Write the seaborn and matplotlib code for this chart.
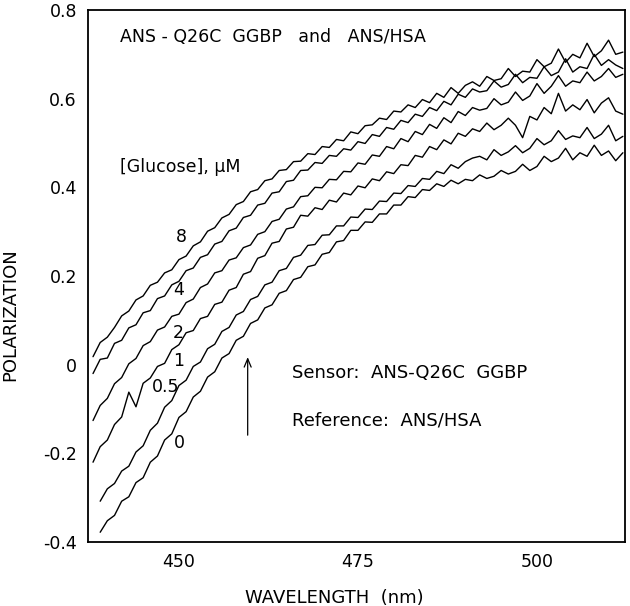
import matplotlib
matplotlib.use("Agg")
import matplotlib.pyplot as plt
import numpy as np
import pandas as pd
import seaborn as sns

# ---- data ----
wl_a = list(range(438, 513))   # curves 8, 4, 2, 1
wl_b = list(range(439, 513))   # curves 0.5, 0

p8 = [0.018, 0.050, 0.062, 0.084, 0.110, 0.121, 0.146, 0.155, 0.179, 0.186,
      0.207, 0.214, 0.237, 0.245, 0.268, 0.277, 0.301, 0.309, 0.331, 0.339,
      0.361, 0.368, 0.390, 0.395, 0.415, 0.419, 0.438, 0.440, 0.458, 0.459,
      0.476, 0.474, 0.492, 0.490, 0.508, 0.505, 0.525, 0.521, 0.539, 0.541,
      0.556, 0.553, 0.572, 0.570, 0.586, 0.580, 0.598, 0.591, 0.612, 0.603,
      0.625, 0.612,
      0.630, 0.638, 0.628, 0.650, 0.641, 0.645, 0.668, 0.650, 0.662, 0.660,
      0.688, 0.672, 0.680, 0.712, 0.682, 0.700, 0.692, 0.725, 0.695, 0.708,
      0.732, 0.700, 0.705]
p4 = [-0.020, 0.012, 0.015, 0.048, 0.055, 0.083, 0.090, 0.117, 0.122, 0.149,
      0.155, 0.180, 0.188, 0.212, 0.218, 0.242, 0.248, 0.272, 0.278, 0.302,
      0.308, 0.332, 0.337, 0.360, 0.364, 0.387, 0.390, 0.413, 0.416, 0.438,
      0.439, 0.456, 0.454, 0.472, 0.470, 0.487, 0.484, 0.503, 0.499, 0.519,
      0.515, 0.535, 0.531, 0.551, 0.546, 0.565, 0.560, 0.580, 0.573, 0.594,
      0.586, 0.610,
      0.603, 0.622, 0.615, 0.618, 0.640, 0.626, 0.632, 0.655, 0.636, 0.648,
      0.646, 0.672, 0.652, 0.660, 0.690, 0.660, 0.672, 0.668, 0.700, 0.675,
      0.688, 0.676, 0.668]
p2 = [-0.126, -0.092, -0.076, -0.043, -0.029, 0.002, 0.014, 0.043, 0.052, 0.078,
      0.085, 0.109, 0.114, 0.140, 0.148, 0.174, 0.182, 0.207, 0.212, 0.236,
      0.241, 0.264, 0.270, 0.294, 0.300, 0.323, 0.328, 0.351, 0.356, 0.379,
      0.381, 0.400, 0.399, 0.418, 0.417, 0.436, 0.435, 0.455, 0.452, 0.473,
      0.470, 0.492, 0.487, 0.510, 0.503, 0.526, 0.519, 0.542, 0.533, 0.557,
      0.546, 0.571,
      0.562, 0.580, 0.574, 0.578, 0.600, 0.586, 0.592, 0.615, 0.596, 0.606,
      0.634, 0.612, 0.628, 0.652, 0.628, 0.640, 0.636, 0.660, 0.640, 0.650,
      0.668, 0.648, 0.655]
p1 = [-0.220, -0.185, -0.170, -0.135, -0.118, -0.062, -0.095, -0.042, -0.030, -0.004,
      0.003, 0.034, 0.045, 0.072, 0.077, 0.104, 0.109, 0.136, 0.141, 0.168,
      0.174, 0.204, 0.210, 0.240, 0.246, 0.274, 0.278, 0.306, 0.310, 0.337,
      0.335, 0.354, 0.350, 0.371, 0.367, 0.387, 0.383, 0.403, 0.399, 0.419,
      0.415, 0.435, 0.431, 0.451, 0.449, 0.472, 0.468, 0.492, 0.485, 0.507,
      0.498, 0.522,
      0.515, 0.532, 0.526, 0.545, 0.530, 0.540, 0.556, 0.540, 0.512, 0.560,
      0.552, 0.580, 0.566, 0.612, 0.572, 0.586, 0.575, 0.598, 0.568, 0.590,
      0.602, 0.572, 0.565]
p05 = [-0.308, -0.280, -0.268, -0.240, -0.229, -0.197, -0.183, -0.148, -0.132, -0.096,
       -0.081, -0.047, -0.035, -0.004, 0.006, 0.036, 0.046, 0.075, 0.084, 0.112,
       0.120, 0.147, 0.154, 0.180, 0.186, 0.212, 0.217, 0.242, 0.247, 0.269,
       0.271, 0.292, 0.293, 0.313, 0.313, 0.333, 0.332, 0.351, 0.350, 0.369,
       0.368, 0.387, 0.386, 0.404, 0.402, 0.420, 0.418, 0.436, 0.431, 0.451,
       0.443,
       0.458, 0.466, 0.470, 0.462, 0.485, 0.472, 0.480, 0.494, 0.478, 0.488,
       0.510, 0.496, 0.505, 0.528, 0.508, 0.516, 0.512, 0.535, 0.510, 0.520,
       0.540, 0.505, 0.515]
p0 = [-0.378, -0.352, -0.340, -0.308, -0.298, -0.266, -0.255, -0.220, -0.206, -0.170,
      -0.156, -0.119, -0.106, -0.073, -0.060, -0.028, -0.016, 0.015, 0.025, 0.055,
      0.064, 0.093, 0.101, 0.128, 0.135, 0.161, 0.167, 0.192, 0.197, 0.221,
      0.225, 0.249, 0.253, 0.277, 0.280, 0.303, 0.303, 0.322, 0.321, 0.340,
      0.340, 0.360, 0.360, 0.379, 0.377, 0.395, 0.393, 0.408, 0.402, 0.416,
      0.408,
      0.418, 0.415, 0.428, 0.420, 0.425, 0.438, 0.430, 0.436, 0.452, 0.438,
      0.447, 0.470, 0.458, 0.466, 0.488, 0.462, 0.478, 0.470, 0.495, 0.472,
      0.482, 0.460, 0.478]

glucose_labels = ["8", "4", "2", "1", "0.5", "0"]
x_ticks = [450, 475, 500]
x_tick_labels = ["450", "475", "500"]
y_ticks = [0.8, 0.6, 0.4, 0.2, 0.0, -0.2, -0.4]
y_tick_labels = ["0.8", "0.6", "0.4", "0.2", "0", "-0.2", "-0.4"]

# ---- long-form table ----
series = [(glucose_labels[0], wl_a, p8), (glucose_labels[1], wl_a, p4),
          (glucose_labels[2], wl_a, p2), (glucose_labels[3], wl_a, p1),
          (glucose_labels[4], wl_b, p05), (glucose_labels[5], wl_b, p0)]
df = pd.concat([pd.DataFrame({"wavelength": w, "polarization": p, "glucose": g})
                for g, w, p in series], ignore_index=True)

sns.set_style("white")
plt.rcParams["font.family"] = ["DejaVu Sans"]
plt.rcParams["text.color"] = "black"
plt.rcParams["axes.labelcolor"] = "black"
plt.rcParams["xtick.color"] = "black"
plt.rcParams["ytick.color"] = "black"

fig = plt.figure(figsize=(6.3, 6.06), dpi=100)
ax = fig.add_axes([0.1397, 0.1056, 0.8524, 0.8779])

sns.lineplot(data=df, x="wavelength", y="polarization", units="glucose",
             estimator=None, color="black", lw=1.0, ax=ax, legend=False)

ax.set_xlim(437.3, 512.3)
ax.set_ylim(-0.4, 0.8)
ax.set_xticks(x_ticks)
ax.set_xticklabels(x_tick_labels)
ax.set_yticks(y_ticks)
ax.set_yticklabels(y_tick_labels)
ax.tick_params(direction="in", length=8, width=1.0, labelsize=12.5, pad=8,
               colors="black", labelcolor="black", top=False, right=False)
for s in ax.spines.values():
    s.set_color("black")
    s.set_linewidth(1.3)
    s.set_visible(True)

ax.set_xlabel("WAVELENGTH  (nm)", fontsize=13, color="black")
ax.xaxis.set_label_coords(0.458, -0.088)
ax.set_ylabel("POLARIZATION", fontsize=13, color="black")
ax.yaxis.set_label_coords(-0.128, 0.427)

# annotations
ax.text(441.8, 0.739, "ANS - Q26C  GGBP   and   ANS/HSA", fontsize=12.5,
        va="center", ha="left", color="black")
ax.text(441.8, 0.446, "[Glucose], \u03bcM", fontsize=12.5, va="center", ha="left",
        color="black")
label_pos = [(450.3, 0.288), (449.9, 0.168), (449.9, 0.071), (450.0, 0.008),
             (448.1, -0.050), (450.1, -0.177)]
for lab, (lx, ly) in zip(glucose_labels, label_pos):
    ax.text(lx, ly, lab, fontsize=12.5, va="center", ha="center", color="black")

ax.annotate("", xy=(459.6, 0.017), xytext=(459.6, -0.159),
            arrowprops=dict(arrowstyle="->,head_length=0.6,head_width=0.25",
                            lw=0.9, color="black", shrinkA=0, shrinkB=0))
ax.text(465.8, -0.019, "Sensor:  ANS-Q26C  GGBP", fontsize=13, va="center",
        ha="left", color="black")
ax.text(465.8, -0.127, "Reference:  ANS/HSA", fontsize=13, va="center",
        ha="left", color="black")

fig.savefig("out.png", dpi=100)
